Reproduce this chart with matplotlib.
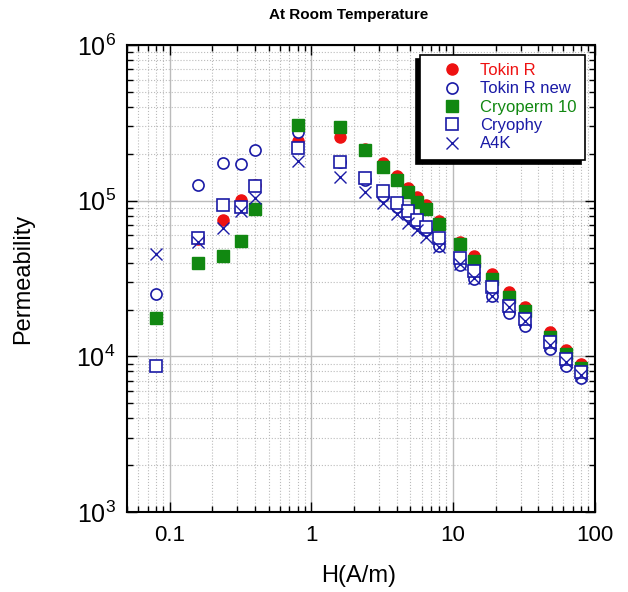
import matplotlib
matplotlib.use("Agg")
import matplotlib.pyplot as plt

plt.rcParams['font.family'] = ['Liberation Sans', 'DejaVu Sans']

# H values (A/m) and permeability per material
h_tokin = [0.16, 0.24, 0.32, 0.4, 0.8, 1.6, 2.4, 3.2, 4.0, 4.8, 5.6, 6.4, 8.0,
           11.2, 14, 19, 25, 32, 48, 63, 80]
mu_tokin = [56500, 75200, 101000, 126000, 242000, 255000, 215000, 174000, 144000,
            120000, 106000, 93800, 74400, 54600, 44200, 33800, 25800, 20700,
            14300, 11000, 8890]

h_tokin_new = [0.08, 0.16, 0.24, 0.32, 0.4, 0.8, 1.6, 2.4, 3.2, 4.0, 4.8, 5.6, 6.4,
               8.0, 11.2, 14, 19, 25, 32, 48, 63, 80]
mu_tokin_new = [25200, 126000, 174000, 171000, 212000, 275000, 178000, 136000,
                107000, 91600, 80900, 71600, 64900, 51400, 38600, 31200, 24400,
                19100, 15700, 11100, 8710, 7230]

h_cryoperm = [0.08, 0.16, 0.24, 0.32, 0.4, 0.8, 1.6, 2.4, 3.2, 4.0, 4.8, 5.6, 6.4,
              8.0, 11.2, 14, 19, 25, 32, 48, 63, 80]
mu_cryoperm = [17700, 39800, 44000, 55000, 88900, 306000, 296000, 212000, 165000,
               136000, 114000, 98600, 88100, 70800, 52500, 41000, 31400, 24200,
               19600, 13400, 10400, 8400]

h_cryophy = [0.08, 0.16, 0.24, 0.32, 0.4, 0.8, 1.6, 2.4, 3.2, 4.0, 4.8, 5.6, 6.4,
             8.0, 11.2, 14, 19, 25, 32, 48, 63, 80]
mu_cryophy = [8670, 57500, 93800, 91600, 124000, 219000, 178000, 139000, 116000,
              96200, 86000, 75200, 68100, 57300, 43100, 35500, 27800, 21100,
              17300, 12300, 9570, 7980]

h_a4k = [0.08, 0.16, 0.24, 0.32, 0.4, 0.8, 1.6, 2.4, 3.2, 4.0, 4.8, 5.6, 6.4,
         8.0, 11.2, 14, 19, 25, 32, 48, 63, 80]
mu_a4k = [45500, 54600, 66500, 86000, 104000, 180000, 143000, 114000, 96200,
          82300, 71600, 64900, 58800, 50200, 39000, 32000, 24400, 20700, 16900,
          11800, 9240, 7600]

blue = '#1a1aa6'
red = '#ee1111'
green = '#118811'

fig = plt.figure(figsize=(6.28, 5.92), dpi=100)
ax = fig.add_axes([0.202, 0.135, 0.745, 0.789])

ax.plot(h_tokin, mu_tokin, 'o', color=red, ms=8, label='Tokin R', zorder=3)
ax.plot(h_tokin_new, mu_tokin_new, 'o', mfc='white', mec=blue, mew=1.2, ms=8,
        label='Tokin R new', zorder=3)
ax.plot(h_cryoperm, mu_cryoperm, 's', color=green, ms=8, label='Cryoperm 10', zorder=4)
ax.plot(h_cryophy, mu_cryophy, 's', mfc='white', mec=blue, mew=1.2, ms=8,
        label='Cryophy', zorder=4)
ax.plot(h_a4k, mu_a4k, 'x', color=blue, mew=1.0, ms=9, label='A4K', zorder=5)

ax.set_xscale('log')
ax.set_yscale('log')
ax.set_xlim(0.05, 100)
ax.set_ylim(1e3, 1e6)

ax.grid(True, which='major', color='#bbbbbb', linestyle='-', linewidth=1)
ax.grid(True, which='minor', color='#bbbbbb', linestyle=':', linewidth=0.8)
ax.set_axisbelow(True)

ax.tick_params(which='both', direction='in', top=True, right=True)
ax.tick_params(which='major', length=7, width=1)
ax.tick_params(which='minor', length=4, width=1)
ax.tick_params(axis='x', labelsize=16, pad=9)
ax.tick_params(axis='y', labelsize=18, pad=8)
ax.xaxis.set_major_formatter(matplotlib.ticker.FuncFormatter(lambda v, p: f'{v:g}'))
for s in ax.spines.values():
    s.set_linewidth(1.5)

ax.set_xlabel('H(A/m)', fontsize=17)
ax.xaxis.set_label_coords(0.496, -0.113)
ax.set_ylabel('Permeability', fontsize=17)
ax.yaxis.set_label_coords(-0.199, 0.5)
fig.text(349 / 628, 1 - 15 / 592, 'At Room Temperature', fontsize=11,
         fontweight='bold', ha='center', va='center')

leg = ax.legend(loc='upper right', bbox_to_anchor=(0.979, 0.979), borderaxespad=0,
                fontsize=12, frameon=True, fancybox=False,
                shadow={'ox': -3, 'oy': -3, 'facecolor': 'black',
                        'edgecolor': 'black', 'alpha': 1},
                edgecolor='black', framealpha=1, borderpad=0.5,
                handletextpad=0.3, labelspacing=0.2, handlelength=2.8)
leg.get_frame().set_linewidth(1.2)
for txt, c in zip(leg.get_texts(), [red, blue, green, blue, blue]):
    txt.set_color(c)

fig.savefig('out.png', dpi=100)
